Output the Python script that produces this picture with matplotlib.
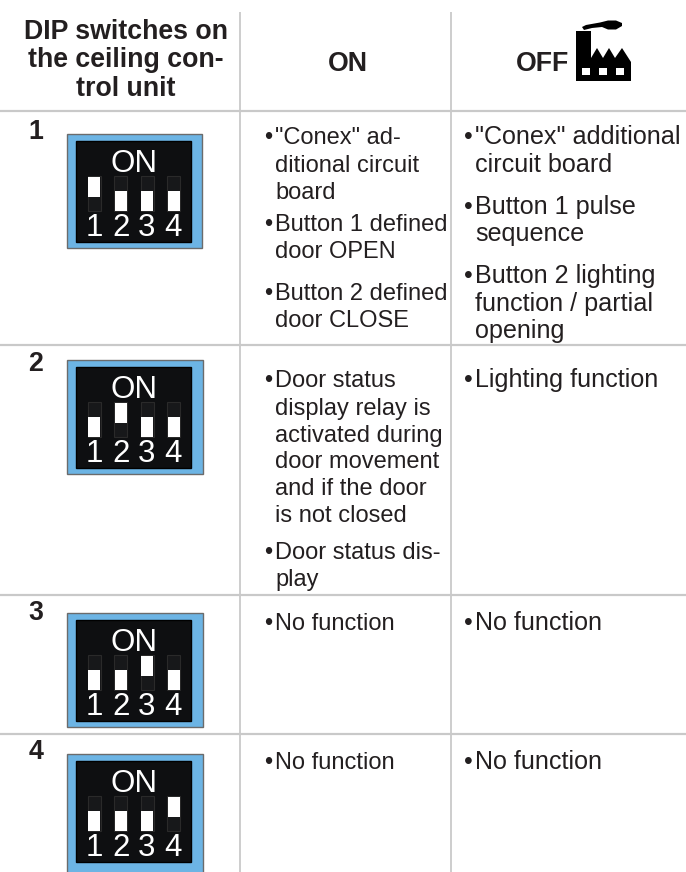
import matplotlib
matplotlib.use("Agg")
import matplotlib.pyplot as plt
from matplotlib.patches import Rectangle, Polygon

plt.rcParams['font.family'] = ['Liberation Sans', 'DejaVu Sans']

TXT = '#231f20'
header_col1 = ["DIP switches on", "the ceiling con-", "trol unit"]
header_on = "ON"
header_off = "OFF"
row_numbers = ["1", "2", "3", "4"]
row_on_switch = [0, 1, 2, 3]
switch_labels = ["1", "2", "3", "4"]

# (column x, baseline y, has bullet, string)
on_lines = [
    (264, 144, True, '"Conex" ad-'), (264, 172, False, 'ditional circuit'), (264, 199, False, 'board'),
    (264, 231, True, 'Button 1 defined'), (264, 258, False, 'door OPEN'),
    (264, 300, True, 'Button 2 defined'), (264, 327, False, 'door CLOSE'),
    (264, 387, True, 'Door status'), (264, 415, False, 'display relay is'),
    (264, 442, False, 'activated during'), (264, 468, False, 'door movement'),
    (264, 495, False, 'and if the door'), (264, 522, False, 'is not closed'),
    (264, 559, True, 'Door status dis-'), (264, 586, False, 'play'),
    (264, 630, True, 'No function'), (264, 769, True, 'No function'),
]
off_lines = [
    (464, 144, True, '"Conex" additional'), (464, 172, False, 'circuit board'),
    (464, 214, True, 'Button 1 pulse'), (464, 241, False, 'sequence'),
    (464, 283, True, 'Button 2 lighting'), (464, 311, False, 'function / partial'),
    (464, 338, False, 'opening'),
    (464, 387, True, 'Lighting function'),
    (464, 630, True, 'No function'), (464, 769, True, 'No function'),
]
h_rules = [111, 345, 595, 734]
v_rules = [240, 451]
row_num_y = [139, 371, 620, 759]
dip_boxes = [(66.5, 134, 202, 248), (66.5, 360, 203, 474), (66.5, 613, 203, 727), (66.5, 754, 203, 885)]

fig = plt.figure(figsize=(6.86, 8.72), dpi=100)
ax = fig.add_axes([0, 0, 1, 1])
ax.set_xlim(0, 686)
ax.set_ylim(872, 0)
ax.axis('off')

FS_OFF = 18.1
FS_ON = 17.0
HFS = 19.3
for y in h_rules:
    ax.plot([0, 686], [y, y], color='#c9c9c9', lw=1.6, solid_capstyle='butt')
for x in v_rules:
    ax.plot([x, x], [12, 872], color='#c9c9c9', lw=1.3, solid_capstyle='butt')

for s, y in zip(header_col1, [39, 67, 96]):
    ax.text(126, y, s, ha='center', va='baseline', fontsize=HFS, fontweight='bold', color=TXT)
ax.text(348, 71, header_on, ha='center', va='baseline', fontsize=HFS, fontweight='bold', color=TXT)
ax.text(516, 71, header_off, ha='left', va='baseline', fontsize=HFS, fontweight='bold', color=TXT)

# factory icon
ax.add_patch(Polygon([(576, 31), (591, 31), (591, 58), (597, 48), (603, 58), (609, 48), (615, 58),
                      (622, 48), (631, 62), (631, 81), (576, 81)], closed=True, fc='black', ec='none'))
for wx in (582, 599, 616):
    ax.add_patch(Rectangle((wx, 68), 8, 7, fc='white', ec='none'))
ax.add_patch(Polygon([(582, 27), (586, 25), (600, 22.5), (608, 20.5), (616, 20.5), (622, 23), (622, 26),
                      (616, 29.5), (608, 29.5), (602, 27), (592, 28), (584, 30)],
                     closed=True, fc='black', ec='none'))

for s, y in zip(row_numbers, row_num_y):
    ax.text(36, y, s, ha='center', va='baseline', fontsize=HFS, fontweight='bold', color=TXT)

for lines, fs in ((on_lines, FS_ON), (off_lines, FS_OFF)):
    for x, y, bullet, s in lines:
        if bullet:
            ax.text(x, y, '•', ha='left', va='baseline', fontsize=fs, color=TXT)
        ax.text(x + 11, y, s, ha='left', va='baseline', fontsize=fs, color=TXT)


def dip(box, on_idx):
    x0, y0, x1, y1 = box
    ax.add_patch(Rectangle((x0, y0), x1 - x0, y1 - y0, fc='#6cb4e4', ec='#6b6b6b', lw=1))
    ix0, iy0 = x0 + 9.5, y0 + 7
    ax.add_patch(Rectangle((ix0, iy0), 115, 101, fc='#0e0f11', ec='black', lw=1))
    ax.text(ix0 + 57.5, iy0 + 31, 'ON', ha='center', va='baseline', fontsize=22.5, color='white')
    for i in range(4):
        cx = ix0 + 18 + i * 26.6
        sy0 = iy0 + 35
        ax.add_patch(Rectangle((cx - 6.5, sy0), 13, 35, fc='#17181a', ec='#2a2a2a', lw=0.8))
        top = sy0 + 1 if i == on_idx else sy0 + 15
        ax.add_patch(Rectangle((cx - 6, top), 12, 20, fc='white', ec='none'))
        ax.text(cx + 0.5 - i * 0.4, iy0 + 95, switch_labels[i], ha='center', va='baseline',
                fontsize=22.5, color='white')


for b, k in zip(dip_boxes, row_on_switch):
    dip(b, k)

fig.savefig('out.png', dpi=100)
